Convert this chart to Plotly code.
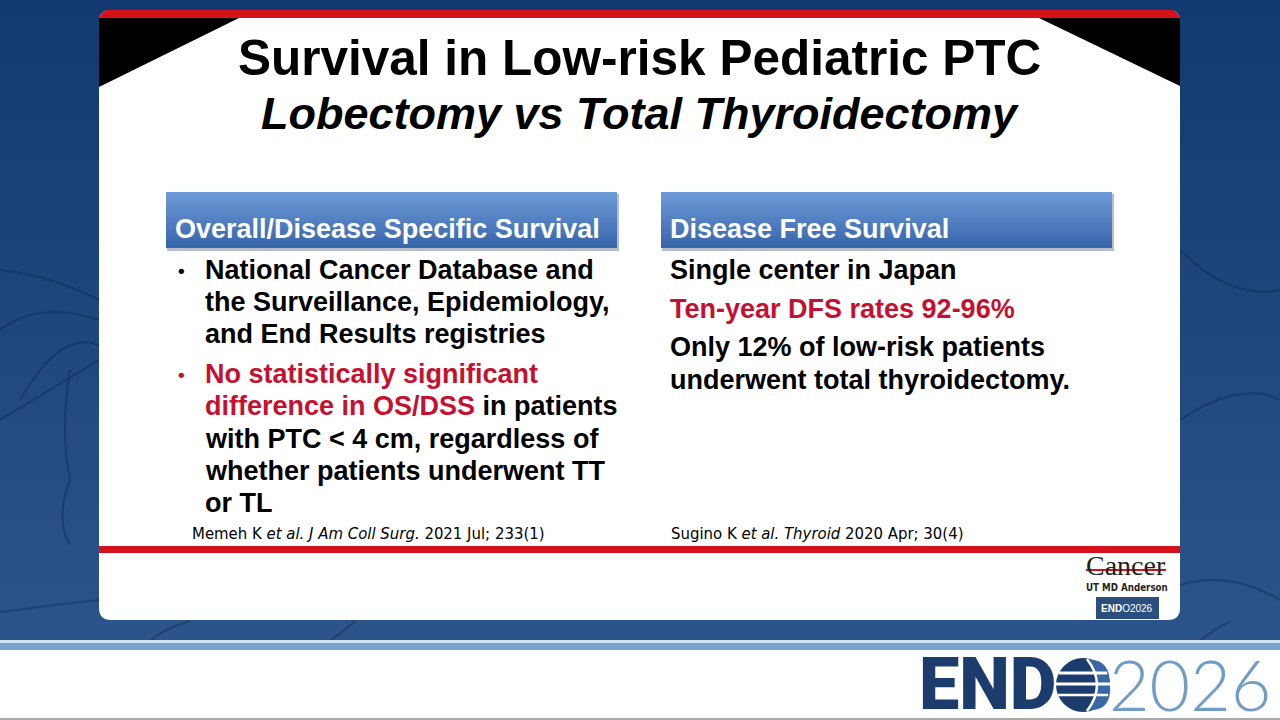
"""
Slide recreation: Survival in Low-risk Pediatric PTC
"""
import plotly.graph_objects as go

# ---- slide text ----
title_lines = ["Survival in Low-risk Pediatric PTC", "<i>Lobectomy vs Total Thyroidectomy</i>"]
panel_headers = ["Overall/Disease Specific Survival", "Disease Free Survival"]

left_bullet_1 = ["National Cancer Database and",
                 "the Surveillance, Epidemiology,",
                 "and End Results registries"]
# (red part, black part) for each line of the second bullet
left_bullet_2 = [("No statistically significant", ""),
                 ("difference in OS/DSS", " in patients"),
                 ("", "with PTC &lt; 4 cm, regardless of"),
                 ("", "whether patients underwent TT"),
                 ("", "or TL")]

right_paragraphs = [["Single center in Japan"],
                    ["Ten-year DFS rates 92-96%"],
                    ["Only 12% of low-risk patients", "underwent total thyroidectomy."]]
right_is_red = [False, True, False]

citations = ["Memeh K <i>et al. J Am Coll Surg.</i> 2021 Jul; 233(1)",
             "Sugino K <i>et al. Thyroid</i> 2020 Apr; 30(4)"]

logo_words = ["Cancer", "UT MD Anderson", "<b>END</b>O2026"]
footer_words = ["END", "2026"]

# ---- colours / fonts ----
RED = "#c5112f"
NAVY = "#1d3c6e"
FONT = "Liberation Sans, Arial, sans-serif"
NARROW = "Liberation Sans Narrow, DejaVu Sans Condensed, Liberation Sans, Arial, sans-serif"


def mix(c1, c2, t):
    a = [int(c1[i:i + 2], 16) for i in (1, 3, 5)]
    b = [int(c2[i:i + 2], 16) for i in (1, 3, 5)]
    return "#%02x%02x%02x" % tuple(round(a[k] + (b[k] - a[k]) * t) for k in range(3))


def rrect(x0, y0, x1, y1, r):
    return (f"M {x0+r},{y0} L {x1-r},{y0} Q {x1},{y0} {x1},{y0+r} "
            f"L {x1},{y1-r} Q {x1},{y1} {x1-r},{y1} L {x0+r},{y1} "
            f"Q {x0},{y1} {x0},{y1-r} L {x0},{y0+r} Q {x0},{y0} {x0+r},{y0} Z")


shapes = []
annotations = []


def rect(x0, y0, x1, y1, color):
    shapes.append(dict(type="rect", x0=x0, y0=y0, x1=x1, y1=y1, fillcolor=color,
                       line=dict(width=0), layer="below"))


def text(x, y, s, size, color="black", anchor="left", family=FONT, weight="bold", **kw):
    annotations.append(dict(x=x, y=y, text=s, showarrow=False, xanchor=anchor,
                            yanchor="middle", font=dict(family=family, size=size,
                                                        color=color, weight=weight), **kw))


# background gradient (each band overlaps the next to hide seams)
steps = 32
for i in range(steps):
    y0 = 641 * i / steps
    y1 = min(641, 641 * (i + 1) / steps + 3)
    rect(0, y0, 1280, y1, mix("#133a70", "#2d548a", i / (steps - 1)))

# faint veins in background
veins = [
    "M 0,270 Q 50,275 99,300",
    "M 0,330 Q 40,300 99,320",
    "M 20,400 Q 60,330 99,345",
    "M 0,420 Q 50,390 99,360",
    "M 70,370 Q 60,430 70,480 Q 55,520 70,545",
    "M 1180,250 Q 1230,300 1280,290",
    "M 1180,420 Q 1240,380 1280,400",
    "M 0,612 Q 50,605 99,600",
    "M 150,641 Q 165,628 190,621",
    "M 330,641 Q 345,630 355,621",
    "M 1180,585 Q 1230,570 1280,600",
    "M 1200,641 Q 1215,628 1230,622",
]
for v in veins:
    shapes.append(dict(type="path", path=v, line=dict(color="rgba(10,30,66,0.35)", width=2),
                       layer="below"))

# bottom stripes and footer
rect(0, 640, 1280, 643, "#cfe5f4")
rect(0, 643, 1280, 650, "#7ba3cf")
rect(0, 650, 1280, 718, "white")
rect(0, 718, 1280, 720, "#a8a8a8")

# white card
shapes.append(dict(type="path", path=rrect(99, 10, 1180, 620, 12), fillcolor="white",
                   line=dict(width=0), layer="below"))
# red top band with rounded corners
shapes.append(dict(type="path",
                   path="M 99,18 L 99,22 Q 99,10 111,10 L 1168,10 Q 1180,10 1180,22 L 1180,18 Z",
                   fillcolor="#d7111b", line=dict(width=0), layer="below"))
rect(105, 10, 1174, 18, "#d7111b")
# black corner triangles
shapes.append(dict(type="path", path="M 99,18 L 239,18 L 99,87 Z", fillcolor="black",
                   line=dict(width=0), layer="below"))
shapes.append(dict(type="path", path="M 1039,18 L 1180,18 L 1180,86 Z", fillcolor="black",
                   line=dict(width=0), layer="below"))
# bottom red rule
rect(99, 546, 1180, 553, "#d7111b")

# title
text(639, 57, title_lines[0], 49.5, anchor="center")
text(640, 113, title_lines[1], 45, anchor="center")

# panel header boxes with vertical gradient and shadow
for x0, hdr in zip([166, 661], panel_headers):
    x1 = x0 + 451
    rect(x0 + 1, 194, x1 + 2, 251, "#b7bcc6")
    n = 20
    for i in range(n):
        ya = 192 + 56 * i / n
        yb = min(248, 192 + 56 * (i + 1) / n + 1)
        rect(x0, ya, x1, yb, mix("#6c9ad7", "#3866ab", i / (n - 1)))
    text(x0 + 7, 229, hdr, 27, color="white")

# left column bullets
line_h = 32.2
y = 270
for i, ln in enumerate(left_bullet_1):
    if i == 0:
        text(176, y, "•", 19)
    text(203, y, ln, 27)
    y += line_h
y += 7.5
for i, (r, b) in enumerate(left_bullet_2):
    if i == 0:
        text(176, y, "•", 19, color=RED)
    s = ""
    if r:
        s += f"<span style='color:{RED}'>{r}</span>"
    if b:
        s += b
    text(203, y, s, 27)
    y += line_h

# right column paragraphs
y = 270
for para, red in zip(right_paragraphs, right_is_red):
    for ln in para:
        text(668, y, ln, 27, color=RED if red else "black")
        y += line_h
    y += 6.5

# citations
text(190, 533, citations[0], 16.6, family=NARROW, weight="normal")
text(669, 533, citations[1], 16.6, family=NARROW, weight="normal")

# MD Anderson logo
text(1126, 565, logo_words[0], 28, color="#231f20", anchor="center",
     family="Liberation Serif, DejaVu Serif, serif", weight="normal")
shapes.append(dict(type="line", x0=1086, y0=570, x1=1166, y1=570,
                   line=dict(color="#d7111b", width=2)))
text(1127, 587, logo_words[1], 9.7, color="#231f20", anchor="center", family=NARROW)
rect(1096, 597, 1159, 619, "#2a4f7f")
text(1127, 608, logo_words[2], 10, color="white", anchor="center", weight="normal")

# footer ENDO2026 logo
text(987, 684, footer_words[0], 72, color=NAVY, anchor="center",
     family="Roboto, Liberation Sans, sans-serif", weight=900, height=66, valign="middle")
cx, cy, R = 1083, 685, 27
shapes.append(dict(type="circle", x0=cx - R, y0=cy - R, x1=cx + R, y1=cy + R,
                   fillcolor=NAVY, line=dict(width=0)))
shapes.append(dict(type="path",
                   path=f"M {cx+4},{cy-R+2} Q {cx+26},{cy} {cx+4},{cy+R-2} Q {cx+R+2},{cy+R} {cx+R},{cy} Q {cx+R},{cy-R} {cx+4},{cy-R+2} Z",
                   fillcolor="#3a68a4", line=dict(width=0)))
for dy, w in [(-12, 3), (-1, 3), (10, 2.5)]:
    half = (R * R - dy * dy) ** 0.5
    shapes.append(dict(type="line", x0=cx - half, y0=cy + dy, x1=cx + half, y1=cy + dy,
                       line=dict(color="white", width=w)))
shapes.append(dict(type="path",
                   path=f"M {cx+4},{cy-R+1} Q {cx+24},{cy} {cx+4},{cy+R-1}",
                   line=dict(color="white", width=2.5)))
text(1190, 684, footer_words[1], 70, color="#6f9dc7", anchor="center",
     family="Lato, Inter, Open Sans, sans-serif", weight=300, height=66, valign="middle")

fig = go.Figure()
fig.update_layout(
    width=1280, height=720,
    margin=dict(l=0, r=0, t=0, b=0),
    paper_bgcolor="white", plot_bgcolor="white",
    xaxis=dict(range=[0, 1280], visible=False, fixedrange=True),
    yaxis=dict(range=[720, 0], visible=False, fixedrange=True),
    shapes=shapes,
    annotations=annotations,
    showlegend=False,
)

fig.write_html("out.html", config={"displayModeBar": False},
               post_script="document.body.style.margin='0';document.body.style.overflow='hidden';")
